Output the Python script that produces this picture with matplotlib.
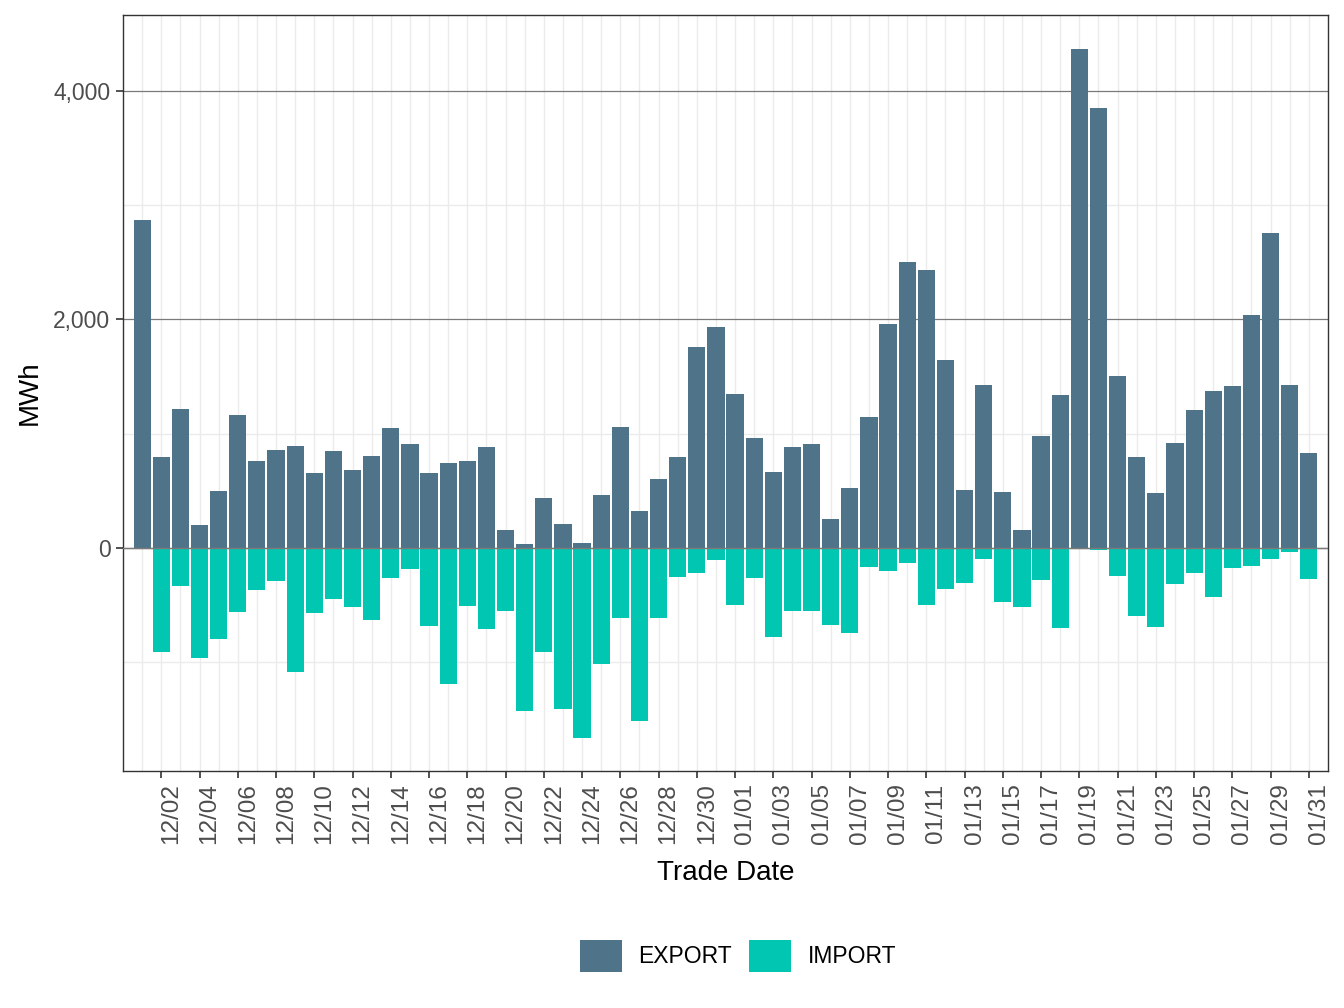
import pandas as pd
import matplotlib.pyplot as plt
import matplotlib.transforms as mtrans
from matplotlib.ticker import FuncFormatter, MultipleLocator
from matplotlib.patches import Patch

plt.rcParams['font.family'] = ['Liberation Sans', 'DejaVu Sans']

# Daily trade dates, Dec 1 to Jan 31
trade_dates = pd.date_range('2023-12-01', '2024-01-31', freq='D')

# Export volumes (MWh), one per day
export_mwh = [
    2869, 796, 1216, 201, 498, 1163, 761, 857, 892, 656,
    848, 682, 805, 1049, 909, 656, 743, 761, 883, 157,
    35, 437, 210, 44, 463, 1058, 324, 603, 796, 1758,
    1933, 1347, 962, 665, 883, 909, 254, 525, 1146, 1959,
    2501, 2431, 1644, 509, 1426, 491, 159, 981, 1337, 4364,
    3855, 1506, 797, 482, 920, 1208, 1374, 1417, 2036, 2754,
    1426, 831,
]

# Import volumes (MWh), plotted below zero
import_mwh = [
    0, 909, 332, 962, 796, 560, 367, 289, 1084, 568,
    446, 516, 630, 262, 184, 682, 1189, 507, 708, 551,
    1425, 909, 1408, 1662, 1014, 612, 1513, 612, 254, 219,
    105, 498, 262, 778, 551, 551, 673, 743, 166, 201,
    131, 498, 359, 306, 96, 472, 516, 280, 700, 0,
    17, 245, 595, 691, 315, 219, 428, 175, 157, 96,
    35, 271,
]

export_color = '#4F7489'
import_color = '#00C6B2'

fig = plt.figure(figsize=(13.44, 10.08), dpi=100)
ax = fig.add_axes([123 / 1344, 1 - 771 / 1008, (1328 - 123) / 1344, (771 - 15) / 1008])

ax.bar(trade_dates, export_mwh, width=0.9, color=export_color, zorder=3)
ax.bar(trade_dates, [-v for v in import_mwh], width=0.9, color=import_color, zorder=3)
ax.axhline(0, color='#7a7a7a', linewidth=1.0, zorder=4)

# Limits
ax.set_xlim(trade_dates[0] - pd.Timedelta(days=1), trade_dates[-1] + pd.Timedelta(days=1))
ax.set_ylim(-1952, 4665)

# x ticks every other day, vertical grid at every day
ax.set_xticks(trade_dates[1::2])
ax.set_xticklabels([d.strftime('%m/%d') for d in trade_dates[1::2]],
                   rotation=90, ha='left', va='top', fontsize=17.5, color='#4d4d4d')
ax.set_xticks(trade_dates, minor=True)
ax.tick_params(axis='x', which='minor', length=0)
ax.tick_params(axis='x', which='major', length=5, width=1.2, color='#333333', pad=4)

ax.yaxis.set_major_locator(MultipleLocator(2000))
ax.yaxis.set_minor_locator(MultipleLocator(1000))
ax.yaxis.set_major_formatter(FuncFormatter(lambda v, p: f'{int(v):,}'))
ax.tick_params(axis='y', which='major', length=5, width=1.2, color='#333333',
               labelsize=16.5, labelcolor='#4d4d4d', pad=4)
ax.tick_params(axis='y', which='minor', length=0)

ax.grid(axis='x', which='both', color='#ebebeb', linewidth=1.0, zorder=0)
ax.grid(axis='y', which='minor', color='#ebebeb', linewidth=1.0, zorder=0)
ax.grid(axis='y', which='major', color='#7a7a7a', linewidth=0.9, zorder=1)
ax.set_axisbelow(True)

for spine in ax.spines.values():
    spine.set_color('#333333')
    spine.set_linewidth(1.0)

ax.set_xlabel('Trade Date', fontsize=20, labelpad=11)
ax.set_ylabel('MWh', fontsize=20, labelpad=8)

# nudge tick labels so they sit just right of their tick
offset = mtrans.ScaledTranslation(-1 / 100, 0, fig.dpi_scale_trans)
for lbl in ax.get_xticklabels():
    lbl.set_transform(lbl.get_transform() + offset)

handles = [Patch(facecolor=export_color, label='EXPORT'),
           Patch(facecolor=import_color, label='IMPORT')]
fig.legend(handles=handles, loc='center', bbox_to_anchor=(738 / 1344, 1 - 956 / 1008),
           ncol=2, frameon=False, fontsize=16.5, handlelength=1.83, handleheight=1.83,
           handletextpad=0.74, columnspacing=0.74)

fig.savefig('out.png', dpi=100)
